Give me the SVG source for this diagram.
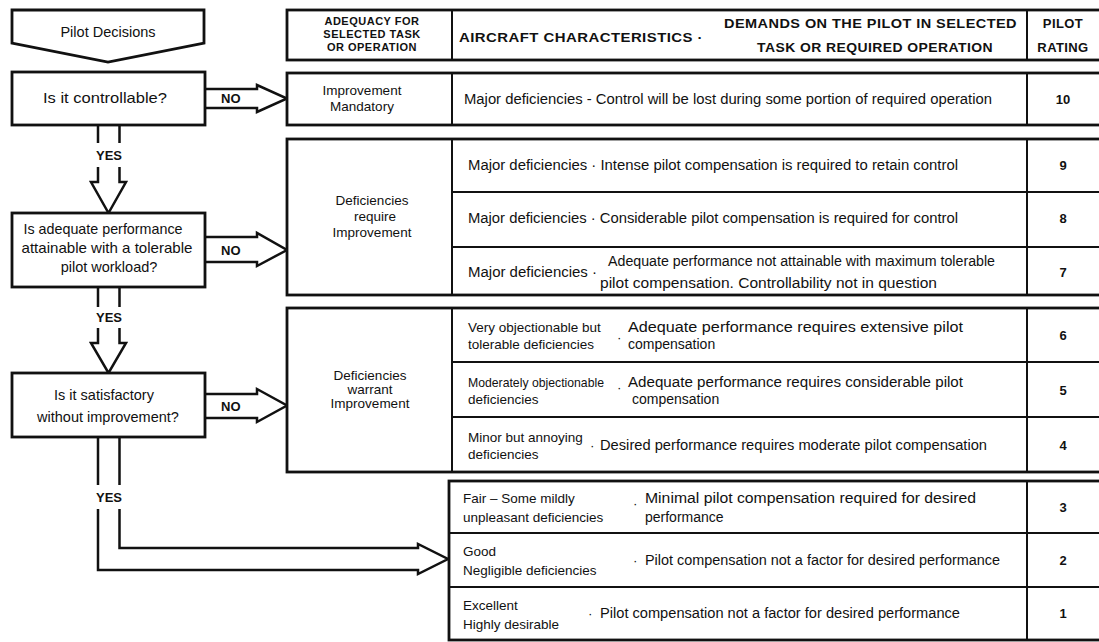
<svg xmlns="http://www.w3.org/2000/svg" width="1099" height="642" viewBox="0 0 1099 642">
<style>
.bx{fill:#fff;stroke:#111;stroke-width:2.8}
.ln{fill:none;stroke:#111;stroke-width:2}
.ar{fill:none;stroke:#111;stroke-width:2.5;stroke-linejoin:miter}
text{font-family:"Liberation Sans",Arial,sans-serif;fill:#111;dominant-baseline:central}
.t{font-size:13.5px}
.r{font-size:14px}
.q{font-size:14.5px;text-anchor:middle}
.c{text-anchor:middle}
.h{font-size:13px;font-weight:bold;letter-spacing:0.4px}
.hs{font-size:11px;font-weight:bold;letter-spacing:0.5px;text-anchor:middle}
.n{font-size:13px;font-weight:bold;text-anchor:middle}
.lb{font-size:13px;font-weight:bold}
</style>
<rect width="1099" height="642" fill="#fff"/>

<g id="connectors">
  <path class="ar" d="M205,89 H257 V85 L287,98.5 L257,112 V108 H205"/>
  <path class="ar" d="M205,237 H257 V233 L287,250 L257,266 V262 H205"/>
  <path class="ar" d="M205,394 H257 V389 L287,405.5 L257,422 V418 H205"/>
  <path class="ar" d="M98,125 V143 M98,167 V182 H91 L108.5,213 L126,182 H119.5 V167 M119.5,143 V125"/>
  <path class="ar" d="M98,287 V307 M98,328 V343 H91 L108.5,373 L126,343 H119.5 V328 M119.5,307 V287"/>
  <path class="ar" d="M98,437 V485 M98,509 V570 H418 V574 L448,559 L418,544 V548 H119.5 V509 M119.5,485 V437"/>
  <text class="lb c" x="109" y="155">YES</text>
  <text class="lb c" x="109" y="317">YES</text>
  <text class="lb c" x="109" y="497">YES</text>
  <text class="lb" x="221" y="98">NO</text>
  <text class="lb" x="221" y="250">NO</text>
  <text class="lb" x="221" y="406">NO</text>
</g>

<g id="pilot-decisions">
  <polygon class="bx" points="12,10 204,10 204,43 108,62 12,43"/>
  <text class="q" x="108" y="32">Pilot Decisions</text>
</g>

<g id="q1">
  <rect class="bx" x="12" y="72" width="193" height="53"/>
  <text class="q" x="105" y="98" textLength="124" lengthAdjust="spacingAndGlyphs">Is it controllable?</text>
</g>

<g id="q2">
  <rect class="bx" x="12" y="213" width="193" height="74"/>
  <text class="q" x="103" y="229" textLength="159" lengthAdjust="spacingAndGlyphs">Is adequate performance</text>
  <text class="q" x="107" y="248" textLength="171" lengthAdjust="spacingAndGlyphs">attainable with a tolerable</text>
  <text class="q" x="109" y="267">pilot workload?</text>
</g>

<g id="q3">
  <rect class="bx" x="12" y="373" width="193" height="64"/>
  <text class="q" x="104" y="395">Is it satisfactory</text>
  <text class="q" x="108" y="417">without improvement?</text>
</g>

<g id="header">
  <rect class="bx" x="287" y="10" width="814" height="50"/>
  <line class="ln" x1="452" y1="10" x2="452" y2="60"/>
  <line class="ln" x1="1027" y1="10" x2="1027" y2="60"/>
  <text class="hs" x="372" y="21">ADEQUACY FOR</text>
  <text class="hs" x="372" y="34">SELECTED TASK</text>
  <text class="hs" x="372" y="47">OR OPERATION</text>
  <text class="h" x="459" y="37" textLength="244" lengthAdjust="spacingAndGlyphs">AIRCRAFT CHARACTERISTICS ·</text>
  <text class="h" x="724" y="23" textLength="293" lengthAdjust="spacingAndGlyphs">DEMANDS ON THE PILOT IN SELECTED</text>
  <text class="h" x="757" y="47" textLength="236" lengthAdjust="spacingAndGlyphs">TASK OR REQUIRED OPERATION</text>
  <text class="h c" x="1063" y="23">PILOT</text>
  <text class="h c" x="1063" y="47">RATING</text>
</g>

<g id="rating-10">
  <rect class="bx" x="287" y="73" width="814" height="52"/>
  <line class="ln" x1="452" y1="73" x2="452" y2="125"/>
  <line class="ln" x1="1027" y1="73" x2="1027" y2="125"/>
  <text class="t c" x="362" y="90">Improvement</text>
  <text class="t c" x="362" y="106">Mandatory</text>
  <text class="r" x="464" y="99" textLength="528" lengthAdjust="spacingAndGlyphs">Major deficiencies - Control will be lost during some portion of required operation</text>
  <text class="n" x="1063" y="99">10</text>
</g>

<g id="ratings-9-7">
  <rect class="bx" x="287" y="139" width="814" height="156"/>
  <line class="ln" x1="452" y1="139" x2="452" y2="295"/>
  <line class="ln" x1="1027" y1="139" x2="1027" y2="295"/>
  <line class="ln" x1="452" y1="192" x2="1101" y2="192"/>
  <line class="ln" x1="452" y1="247" x2="1101" y2="247"/>
  <text class="t c" x="372" y="200">Deficiencies</text>
  <text class="t c" x="375" y="216">require</text>
  <text class="t c" x="372" y="232">Improvement</text>
  <text class="r" x="468" y="165" textLength="490" lengthAdjust="spacingAndGlyphs">Major deficiencies · Intense pilot compensation is required to retain control</text>
  <text class="n" x="1063" y="165">9</text>
  <text class="r" x="468" y="218" textLength="490" lengthAdjust="spacingAndGlyphs">Major deficiencies · Considerable pilot compensation is required for control</text>
  <text class="n" x="1063" y="218">8</text>
  <text class="r" x="468" y="272" textLength="129" lengthAdjust="spacingAndGlyphs">Major deficiencies ·</text>
  <text class="r" x="608" y="261" textLength="387" lengthAdjust="spacingAndGlyphs">Adequate performance not attainable with maximum tolerable</text>
  <text class="r" x="600" y="283" textLength="337" lengthAdjust="spacingAndGlyphs">pilot compensation. Controllability not in question</text>
  <text class="n" x="1063" y="272">7</text>
</g>

<g id="ratings-6-4">
  <rect class="bx" x="287" y="308" width="814" height="164"/>
  <line class="ln" x1="452" y1="308" x2="452" y2="472"/>
  <line class="ln" x1="1027" y1="308" x2="1027" y2="472"/>
  <line class="ln" x1="452" y1="362" x2="1101" y2="362"/>
  <line class="ln" x1="452" y1="417" x2="1101" y2="417"/>
  <text class="t c" x="370" y="375">Deficiencies</text>
  <text class="t c" x="370" y="389">warrant</text>
  <text class="t c" x="370" y="403">Improvement</text>
  <text class="t" x="468" y="327">Very objectionable but</text>
  <text class="t" x="468" y="344">tolerable deficiencies</text>
  <text class="t" x="617" y="337">·</text>
  <text class="r" x="628" y="327" textLength="335" lengthAdjust="spacingAndGlyphs">Adequate performance requires extensive pilot</text>
  <text class="r" x="628" y="344">compensation</text>
  <text class="n" x="1063" y="335">6</text>
  <text class="t" x="468" y="382" textLength="136" lengthAdjust="spacingAndGlyphs">Moderately objectionable</text>
  <text class="t" x="468" y="399">deficiencies</text>
  <text class="t" x="617" y="387">·</text>
  <text class="r" x="628" y="382" textLength="335" lengthAdjust="spacingAndGlyphs">Adequate performance requires considerable pilot</text>
  <text class="r" x="632" y="399">compensation</text>
  <text class="n" x="1063" y="390">5</text>
  <text class="t" x="468" y="437">Minor but annoying</text>
  <text class="t" x="468" y="454">deficiencies</text>
  <text class="t" x="590" y="445">·</text>
  <text class="r" x="600" y="445" textLength="387" lengthAdjust="spacingAndGlyphs">Desired performance requires moderate pilot compensation</text>
  <text class="n" x="1063" y="445">4</text>
</g>

<g id="ratings-3-1">
  <rect class="bx" x="449" y="481" width="652" height="159"/>
  <line class="ln" x1="1027" y1="481" x2="1027" y2="640"/>
  <line class="ln" x1="449" y1="533" x2="1101" y2="533"/>
  <line class="ln" x1="449" y1="587" x2="1101" y2="587"/>
  <text class="t" x="463" y="498">Fair – Some mildly</text>
  <text class="t" x="463" y="517">unpleasant deficiencies</text>
  <text class="t" x="633" y="503">·</text>
  <text class="r" x="645" y="498" textLength="331" lengthAdjust="spacingAndGlyphs">Minimal pilot compensation required for desired</text>
  <text class="r" x="645" y="517">performance</text>
  <text class="n" x="1063" y="507">3</text>
  <text class="t" x="463" y="551">Good</text>
  <text class="t" x="463" y="570">Negligible deficiencies</text>
  <text class="t" x="633" y="560">·</text>
  <text class="r" x="645" y="560" textLength="355" lengthAdjust="spacingAndGlyphs">Pilot compensation not a factor for desired performance</text>
  <text class="n" x="1063" y="560">2</text>
  <text class="t" x="463" y="605">Excellent</text>
  <text class="t" x="463" y="624">Highly desirable</text>
  <text class="t" x="588" y="613">·</text>
  <text class="r" x="600" y="613" textLength="360" lengthAdjust="spacingAndGlyphs">Pilot compensation not a factor for desired performance</text>
  <text class="n" x="1063" y="613">1</text>
</g>
</svg>
